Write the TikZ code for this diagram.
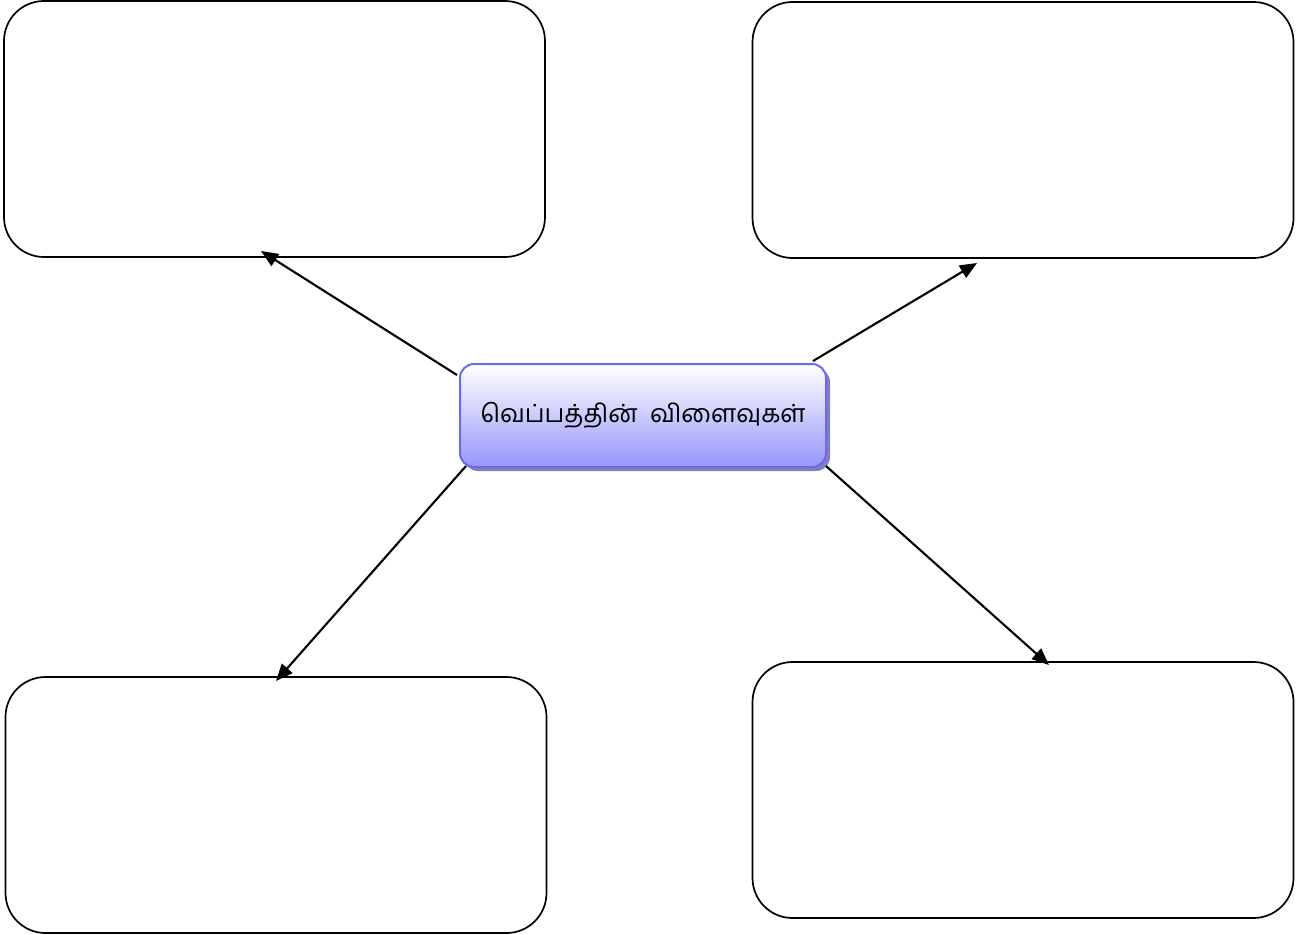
\documentclass[tikz,border=0pt]{standalone}
\usepackage{fontspec}
\newfontfamily\tamilfont[Script=Tamil]{Hind Madurai}
\usetikzlibrary{arrows.meta,shadows}
\definecolor{cborder}{HTML}{6A6AF0}
\definecolor{cbottom}{HTML}{9797FB}
\definecolor{cshadow}{HTML}{8080B8}
\tikzset{
  emptybox/.style={draw=black, line width=1.7pt, rounded corners=40pt, minimum width=541pt, minimum height=256pt, inner sep=0pt},
  centerbox/.style={draw=cborder, line width=2pt, rounded corners=14pt, top color=white, bottom color=cbottom, minimum width=366pt, minimum height=103pt, inner sep=0pt, font=\tamilfont\fontsize{25}{30}\selectfont,
    drop shadow={shadow xshift=4pt, shadow yshift=-4pt, fill=cshadow, opacity=1}},
  link/.style={line width=2.1pt, -{Triangle[length=17pt, width=14pt]}}
}
\begin{document}
\begin{tikzpicture}[x=1pt,y=-1pt]
\useasboundingbox (0,0) rectangle (1300,934);
\node[emptybox] (tl) at (274.5,129) {};
\node[emptybox] (tr) at (1023,130) {};
\node[emptybox] (bl) at (276,805) {};
\node[emptybox] (br) at (1023,790) {};
\node[centerbox] (c) at (643,415.5) {வெப்பத்தின்\hspace{0.5em}விளைவுகள்};
\coordinate (s1) at (457,375);
\coordinate (e1) at (261,251);
\coordinate (s2) at (813,361);
\coordinate (e2) at (977,263);
\coordinate (s3) at (466,466);
\coordinate (e3) at (276,681);
\coordinate (s4) at (826,466);
\coordinate (e4) at (1049,665);
\draw[link] (s1) -- (e1);
\draw[link] (s2) -- (e2);
\draw[link] (s3) -- (e3);
\draw[link] (s4) -- (e4);
\end{tikzpicture}
\end{document}
